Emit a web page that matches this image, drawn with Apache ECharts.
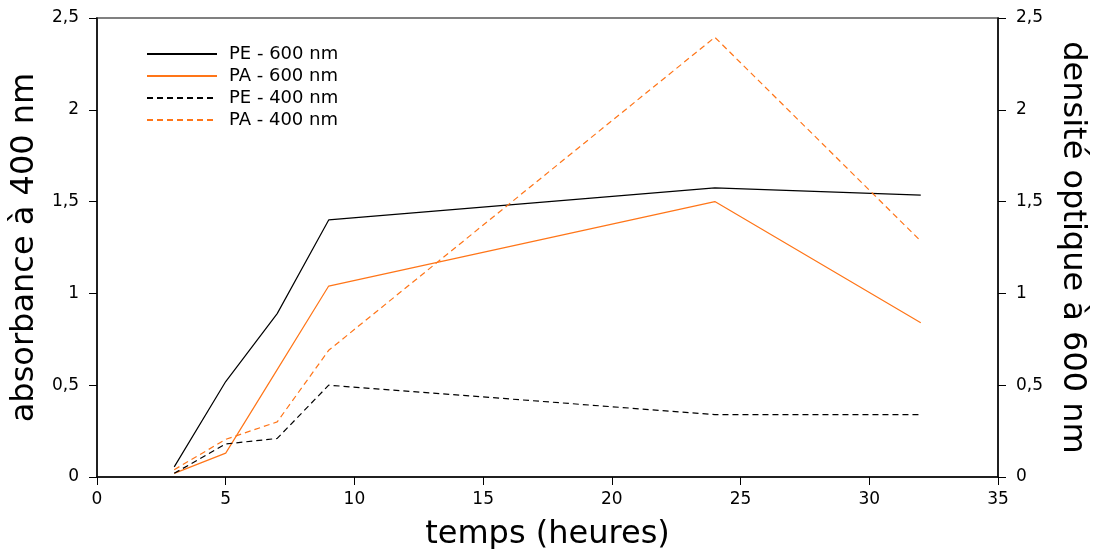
<!DOCTYPE html>
<html>
<head>
<meta charset="utf-8">
<script src="https://cdn.jsdelivr.net/npm/echarts@6/dist/echarts.min.js"></script>
<style>
  html, body { margin: 0; padding: 0; background: #fff; }
  #chart { width: 1096px; height: 549px; }
</style>
</head>
<body>
<div id="chart"></div>
<script>
// heures
var hours = [3, 5, 7, 9, 24, 32];
var pe600 = [0.055, 0.52, 0.89, 1.40, 1.575, 1.535];
var pa600 = [0.02, 0.13, 0.585, 1.04, 1.50, 0.84];
var pe400 = [0.02, 0.18, 0.21, 0.50, 0.34, 0.34];
var pa400 = [0.04, 0.205, 0.30, 0.69, 2.395, 1.285];
var seriesNames = ['PE - 600 nm', 'PA - 600 nm', 'PE - 400 nm', 'PA - 400 nm'];

var BLACK = '#000000';
var ORANGE = '#ff7518';
var FONT = 'DejaVu Sans';

function pairs(ys) {
  return hours.map(function (h, i) { return [h, ys[i]]; });
}

function fmt(v) {
  return String(v).replace('.', ',');
}

function makeSeries(name, ys, color, dashed) {
  return {
    name: name,
    type: 'line',
    data: pairs(ys),
    symbol: 'none',
    animation: false,
    lineStyle: { color: color, width: 1.2, type: dashed ? [6, 4] : 'solid' },
    itemStyle: { color: color }
  };
}

function yAxisOpts(name, pos, rotate, gap) {
  return {
    type: 'value',
    position: pos,
    min: 0, max: 2.5, interval: 0.5,
    name: name,
    nameLocation: 'middle',
    nameRotate: rotate,
    nameGap: gap,
    nameTextStyle: { fontFamily: FONT, fontSize: 32, color: BLACK },
    axisLine: { show: true, lineStyle: { color: BLACK, width: 1.5 } },
    axisTick: { show: true, length: 8, lineStyle: { color: BLACK } },
    axisLabel: { fontFamily: FONT, fontSize: 17, color: BLACK, margin: 18, formatter: fmt },
    splitLine: { show: false }
  };
}

var chart = echarts.init(document.getElementById('chart'));
chart.setOption({
  backgroundColor: '#fff',
  animation: false,
  grid: {
    left: 97, right: 98, top: 18, bottom: 72,
    outerBoundsMode: 'none',
    containLabel: false,
    show: true, borderColor: '#808080', borderWidth: 2
  },
  legend: {
    orient: 'vertical',
    left: 141, top: 40,
    itemWidth: 70, itemHeight: 12, itemGap: 4,
    data: seriesNames,
    itemStyle: { opacity: 0 },
    textStyle: { fontFamily: FONT, fontSize: 18, color: BLACK, padding: [0, 0, 0, 7] }
  },
  xAxis: {
    type: 'value',
    min: 0, max: 35, interval: 5,
    name: 'temps (heures)',
    nameLocation: 'middle',
    nameGap: 42,
    nameTextStyle: { fontFamily: FONT, fontSize: 32, color: BLACK },
    axisLine: { show: true, onZero: false, lineStyle: { color: BLACK, width: 1.5 } },
    axisTick: { show: true, length: 8, lineStyle: { color: BLACK } },
    axisLabel: { fontFamily: FONT, fontSize: 17, color: BLACK, margin: 14 },
    splitLine: { show: false }
  },
  yAxis: [
    yAxisOpts('absorbance à 400 nm', 'left', 90, 38),
    yAxisOpts('densité optique à 600 nm', 'right', -90, 58)
  ],
  series: [
    makeSeries(seriesNames[0], pe600, BLACK, false),
    makeSeries(seriesNames[1], pa600, ORANGE, false),
    makeSeries(seriesNames[2], pe400, BLACK, true),
    makeSeries(seriesNames[3], pa400, ORANGE, true)
  ]
});
</script>
</body>
</html>
